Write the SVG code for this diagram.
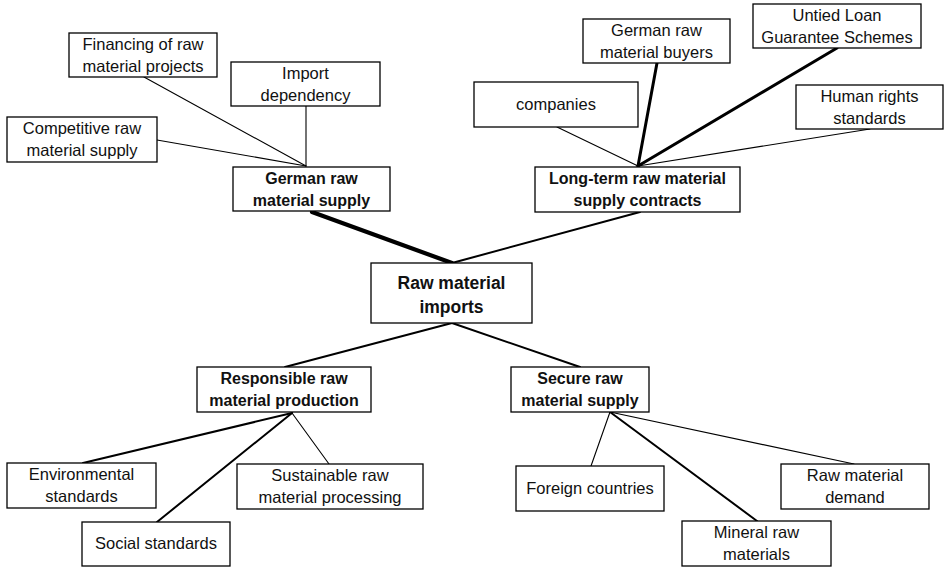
<svg xmlns="http://www.w3.org/2000/svg" width="945" height="570" viewBox="0 0 945 570">
<style>
rect{fill:#fff;stroke:#000;stroke-width:1.3}
text{font-family:"Liberation Sans",Arial,sans-serif;font-size:16.5px;fill:#111;text-anchor:middle}
.b{font-weight:bold;font-size:16px}
.c{font-size:17.5px;font-weight:bold}
#connectors line{stroke:#000;stroke-linecap:round}
.t1{stroke-width:1.1}
.t2{stroke-width:2}
.t3{stroke-width:3}
.t4{stroke-width:4.2}
</style>
<rect x="0" y="0" width="945" height="570" style="fill:#fff;stroke:none"/>
<g id="connectors">
<line class="t1" x1="144" y1="77" x2="306" y2="166"/>
<line class="t1" x1="306" y1="106" x2="306" y2="166"/>
<line class="t1" x1="157" y1="140" x2="306" y2="166"/>
<line class="t1" x1="557" y1="127" x2="638" y2="166"/>
<line class="t3" x1="657" y1="63" x2="638" y2="166"/>
<line class="t3" x1="837" y1="48" x2="638" y2="166"/>
<line class="t1" x1="870" y1="129" x2="638" y2="166"/>
<line class="t4" x1="312" y1="212" x2="452" y2="263"/>
<line class="t2" x1="640" y1="212" x2="452" y2="263"/>
<line class="t2" x1="452" y1="323" x2="285" y2="367"/>
<line class="t2" x1="452" y1="323" x2="580" y2="367"/>
<line class="t2" x1="83" y1="463" x2="292" y2="413"/>
<line class="t2" x1="157" y1="522" x2="292" y2="413"/>
<line class="t1" x1="329" y1="464" x2="292" y2="413"/>
<line class="t1" x1="591" y1="466" x2="610" y2="412"/>
<line class="t2" x1="757" y1="521" x2="610" y2="412"/>
<line class="t1" x1="854" y1="464" x2="610" y2="412"/>
</g>
<g id="financing"><rect x="69" y="33" width="148" height="44"/><text x="143" y="50">Financing of raw</text><text x="143" y="72">material projects</text></g>
<g id="import-dependency"><rect x="231" y="62" width="149" height="44"/><text x="305.5" y="79">Import</text><text x="305.5" y="101">dependency</text></g>
<g id="competitive"><rect x="7" y="117" width="150" height="45"/><text x="82" y="134">Competitive raw</text><text x="82" y="156">material supply</text></g>
<g id="german-supply"><rect x="233" y="167" width="157" height="44"/><text class="b" x="311.5" y="184">German raw</text><text class="b" x="311.5" y="206">material supply</text></g>
<g id="buyers"><rect x="583" y="19" width="147" height="44"/><text x="656.5" y="36">German raw</text><text x="656.5" y="58">material buyers</text></g>
<g id="untied"><rect x="753" y="4" width="168" height="44"/><text x="837" y="21">Untied Loan</text><text x="837" y="43">Guarantee Schemes</text></g>
<g id="companies"><rect x="474" y="82" width="164" height="45"/><text x="556" y="110">companies</text></g>
<g id="human-rights"><rect x="796" y="85" width="147" height="44"/><text x="869.5" y="102">Human rights</text><text x="869.5" y="124">standards</text></g>
<g id="long-term"><rect x="535" y="167" width="205" height="45"/><text class="b" x="637.5" y="184">Long-term raw material</text><text class="b" x="637.5" y="206">supply contracts</text></g>
<g id="imports"><rect x="371" y="263" width="161" height="60"/><text class="c" x="451.5" y="289">Raw material</text><text class="c" x="451.5" y="313">imports</text></g>
<g id="responsible"><rect x="197" y="367" width="174" height="45"/><text class="b" x="284" y="384">Responsible raw</text><text class="b" x="284" y="406">material production</text></g>
<g id="secure"><rect x="511" y="367" width="138" height="45"/><text class="b" x="580" y="384">Secure raw</text><text class="b" x="580" y="406">material supply</text></g>
<g id="environmental"><rect x="7" y="463" width="149" height="45"/><text x="81.5" y="480">Environmental</text><text x="81.5" y="502">standards</text></g>
<g id="sustainable"><rect x="237" y="464" width="186" height="45"/><text x="330" y="481">Sustainable raw</text><text x="330" y="503">material processing</text></g>
<g id="social"><rect x="82" y="522" width="148" height="44"/><text x="156" y="549">Social standards</text></g>
<g id="foreign"><rect x="516" y="466" width="148" height="45"/><text x="590" y="494">Foreign countries</text></g>
<g id="mineral"><rect x="682" y="521" width="149" height="45"/><text x="756.5" y="538">Mineral raw</text><text x="756.5" y="560">materials</text></g>
<g id="demand"><rect x="781" y="464" width="148" height="45"/><text x="855" y="481">Raw material</text><text x="855" y="503">demand</text></g>
</svg>
